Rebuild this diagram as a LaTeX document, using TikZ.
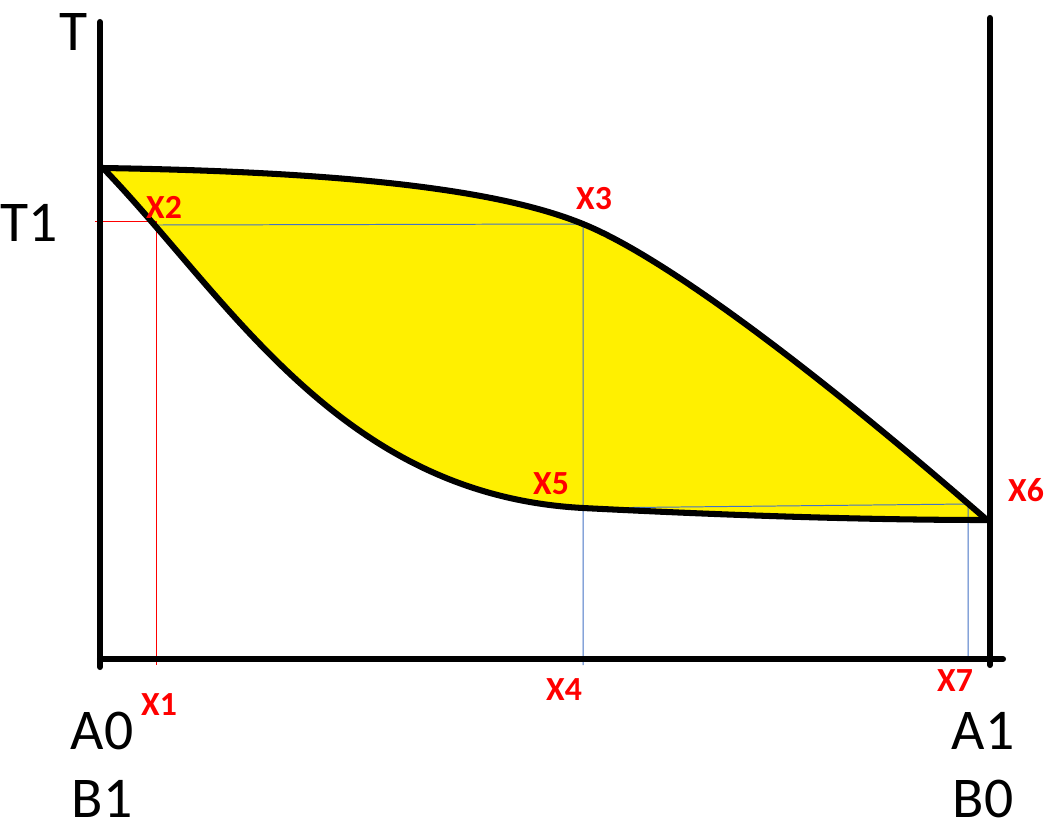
\documentclass[tikz,border=0pt]{standalone}
\usepackage{fontspec}
\setmainfont{Carlito}
\usepackage{xcolor}
\definecolor{lensyellow}{RGB}{255,240,0}
\definecolor{tieblue}{RGB}{68,114,196}
\definecolor{tiered}{RGB}{255,0,0}

\begin{document}
\begin{tikzpicture}[x=0.025cm,y=-0.025cm,
  axis/.style={line width=4.3pt,line cap=round},
  curve/.style={line width=4.3pt,line join=round},
  tie/.style={line width=0.7pt},
  big/.style={inner sep=0pt,font=\fontsize{41}{43}\selectfont},
  mark label/.style={inner sep=1pt,text=tiered,font=\fontsize{24}{26}\selectfont\bfseries}]
\useasboundingbox (0,0) rectangle (1045,829);
% phase points
\coordinate (top) at (103,168);
\coordinate (end) at (987,520);
\coordinate (x2) at (156,221);
\coordinate (x3) at (583,224);
\coordinate (x5) at (583,508);
\coordinate (x6) at (968,504);
% two-phase lens
\fill[lensyellow] (top) .. controls (350,172) and (500,190) .. (x3)
  .. controls (650,251) and (780,340) .. (end)
  .. controls (850,520) and (700,514) .. (x5)
  .. controls (340,495) and (230,300) .. (top);
% tie lines
\draw[tie,tiered] (95,221)--(x2)--(156,665);
\draw[tie,tieblue] (158,225)--(x3)--(583,665);
\draw[tie,tieblue] (x5)--(x6)--(968,660);
% liquidus and solidus
\draw[curve] (top) .. controls (350,172) and (500,190) .. (x3)
  .. controls (650,251) and (780,340) .. (end);
\draw[curve] (top) .. controls (230,300) and (340,495) .. (x5)
  .. controls (700,514) and (850,520) .. (end);
% axes
\draw[axis] (100,22)--(100,667);
\draw[axis] (990,18)--(990,665);
\draw[axis] (100,659)--(1003,659);
\node[big] (tlab) at (74,32) {T};
\node[big] (t1lab) at (29,223) {T1};
\node[big] (a0) at (102,731) {A0};
\node[big] (b1) at (102,799) {B1};
\node[big] (a1) at (983,731) {A1};
\node[big] (b0) at (983,799) {B0};
\node[mark label] (lx1) at (159,705) {X1};
\node[mark label] (lx2) at (164,207) {X2};
\node[mark label] (lx3) at (594,199) {X3};
\node[mark label] (lx4) at (564,690) {X4};
\node[mark label] (lx5) at (551,484) {X5};
\node[mark label] (lx6) at (1026,490) {X6};
\node[mark label] (lx7) at (955,681) {X7};
\end{tikzpicture}
\end{document}
